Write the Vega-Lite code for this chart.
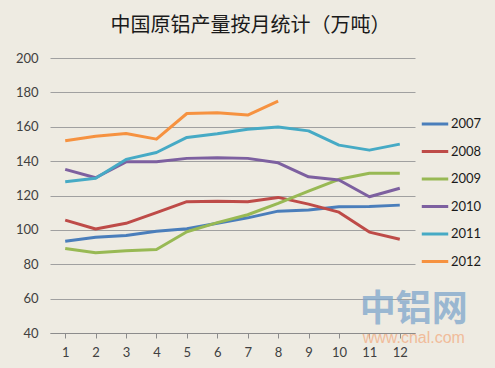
{
  "$schema": "https://vega.github.io/schema/vega-lite/v6.json",
  "width": 365,
  "height": 275,
  "autosize": {"type": "none"},
  "padding": {"left": 50, "top": 58, "right": 80, "bottom": 35},
  "background": "#EEEBE2",
  "title": {
    "text": "中国原铝产量按月统计（万吨）",
    "font": "Noto Sans CJK SC",
    "fontSize": 20,
    "fontWeight": "normal",
    "color": "#1a1a1a",
    "anchor": "middle",
    "dx": 18,
    "offset": 16
  },
  "config": {
    "view": {"stroke": null},
    "axis": {"labelFont": "Lato", "labelColor": "#404040", "labelFontSize": 13}
  },
  "datasets": {
    "series": [
      {"month": 1, "year": "2007", "value": 93.4},
      {"month": 2, "year": "2007", "value": 95.7},
      {"month": 3, "year": "2007", "value": 96.7},
      {"month": 4, "year": "2007", "value": 99.2},
      {"month": 5, "year": "2007", "value": 100.6},
      {"month": 6, "year": "2007", "value": 103.8},
      {"month": 7, "year": "2007", "value": 107.0},
      {"month": 8, "year": "2007", "value": 110.9},
      {"month": 9, "year": "2007", "value": 111.5},
      {"month": 10, "year": "2007", "value": 113.4},
      {"month": 11, "year": "2007", "value": 113.6},
      {"month": 12, "year": "2007", "value": 114.4},
      {"month": 1, "year": "2008", "value": 105.7},
      {"month": 2, "year": "2008", "value": 100.5},
      {"month": 3, "year": "2008", "value": 103.8},
      {"month": 4, "year": "2008", "value": 110.0},
      {"month": 5, "year": "2008", "value": 116.4},
      {"month": 6, "year": "2008", "value": 116.7},
      {"month": 7, "year": "2008", "value": 116.4},
      {"month": 8, "year": "2008", "value": 118.9},
      {"month": 9, "year": "2008", "value": 115.0},
      {"month": 10, "year": "2008", "value": 110.3},
      {"month": 11, "year": "2008", "value": 98.7},
      {"month": 12, "year": "2008", "value": 94.5},
      {"month": 1, "year": "2009", "value": 89.2},
      {"month": 2, "year": "2009", "value": 86.7},
      {"month": 3, "year": "2009", "value": 87.8},
      {"month": 4, "year": "2009", "value": 88.6},
      {"month": 5, "year": "2009", "value": 98.9},
      {"month": 6, "year": "2009", "value": 104.2},
      {"month": 7, "year": "2009", "value": 108.8},
      {"month": 8, "year": "2009", "value": 115.4},
      {"month": 9, "year": "2009", "value": 122.6},
      {"month": 10, "year": "2009", "value": 129.4},
      {"month": 11, "year": "2009", "value": 132.9},
      {"month": 12, "year": "2009", "value": 133.0},
      {"month": 1, "year": "2010", "value": 135.2},
      {"month": 2, "year": "2010", "value": 130.3},
      {"month": 3, "year": "2010", "value": 139.6},
      {"month": 4, "year": "2010", "value": 139.6},
      {"month": 5, "year": "2010", "value": 141.6},
      {"month": 6, "year": "2010", "value": 142.0},
      {"month": 7, "year": "2010", "value": 141.6},
      {"month": 8, "year": "2010", "value": 139.0},
      {"month": 9, "year": "2010", "value": 130.9},
      {"month": 10, "year": "2010", "value": 129.0},
      {"month": 11, "year": "2010", "value": 119.3},
      {"month": 12, "year": "2010", "value": 124.2},
      {"month": 1, "year": "2011", "value": 128.0},
      {"month": 2, "year": "2011", "value": 130.0},
      {"month": 3, "year": "2011", "value": 141.0},
      {"month": 4, "year": "2011", "value": 145.0},
      {"month": 5, "year": "2011", "value": 153.8},
      {"month": 6, "year": "2011", "value": 155.9},
      {"month": 7, "year": "2011", "value": 158.6},
      {"month": 8, "year": "2011", "value": 159.8},
      {"month": 9, "year": "2011", "value": 157.6},
      {"month": 10, "year": "2011", "value": 149.3},
      {"month": 11, "year": "2011", "value": 146.4},
      {"month": 12, "year": "2011", "value": 149.9},
      {"month": 1, "year": "2012", "value": 151.8},
      {"month": 2, "year": "2012", "value": 154.5},
      {"month": 3, "year": "2012", "value": 156.1},
      {"month": 4, "year": "2012", "value": 152.8},
      {"month": 5, "year": "2012", "value": 167.7},
      {"month": 6, "year": "2012", "value": 168.1},
      {"month": 7, "year": "2012", "value": 166.8},
      {"month": 8, "year": "2012", "value": 174.9}
    ],
    "watermark": [
      {"month": 12, "value": 53.5, "text": "中铝网", "kind": "big"},
      {"month": 12, "value": 37, "text": "www.cnal.com", "kind": "small"}
    ]
  },
  "encoding": {
    "x": {
      "field": "month", "type": "ordinal",
      "scale": {"paddingInner": 0, "paddingOuter": 0},
      "axis": {
        "title": null, "labelAngle": 0, "bandPosition": 0,
        "domainColor": "#8c8c8c", "tickColor": "#8c8c8c", "tickSize": 5,
        "labelPadding": 8, "grid": false
      }
    },
    "y": {
      "field": "value", "type": "quantitative",
      "scale": {"domain": [40, 200], "nice": false, "zero": false},
      "axis": {
        "title": null, "values": [40, 60, 80, 100, 120, 140, 160, 180, 200],
        "labelOverlap": false,
        "domain": false, "ticks": false, "labelPadding": 12,
        "gridColor": "#a0a0a0", "gridWidth": 1
      }
    }
  },
  "layer": [
    {
      "data": {"name": "series"},
      "mark": {"type": "line", "strokeWidth": 3, "strokeJoin": "round"},
      "encoding": {
        "color": {
          "field": "year", "type": "nominal",
          "scale": {
            "domain": ["2007", "2008", "2009", "2010", "2011", "2012"],
            "range": ["#4A7EBB", "#BE4B48", "#98B954", "#7D60A0", "#46AAC5", "#F69240"]
          },
          "legend": {
            "title": null, "orient": "none", "legendX": 370, "legendY": 51,
            "symbolType": "stroke", "symbolStrokeWidth": 3, "symbolSize": 700,
            "labelFont": "Lato", "labelFontSize": 13, "labelColor": "#1a1a1a",
            "rowPadding": 5.5, "labelOffset": 1
          }
        }
      }
    },
    {
      "data": {"name": "watermark"},
      "transform": [{"filter": "datum.kind == 'big'"}],
      "mark": {"type": "text", "font": "Noto Sans CJK SC", "fontSize": 36, "fontWeight": "bold", "color": "#7FA6CC", "opacity": 0.75, "dx": 14, "baseline": "middle"},
      "encoding": {
        "text": {"field": "text"}
      }
    },
    {
      "data": {"name": "watermark"},
      "transform": [{"filter": "datum.kind == 'small'"}],
      "mark": {"type": "text", "font": "Liberation Sans", "fontSize": 16, "color": "#F2B48E", "opacity": 0.85, "dx": 14, "baseline": "middle", "clip": false},
      "encoding": {
        "text": {"field": "text"}
      }
    }
  ]
}
